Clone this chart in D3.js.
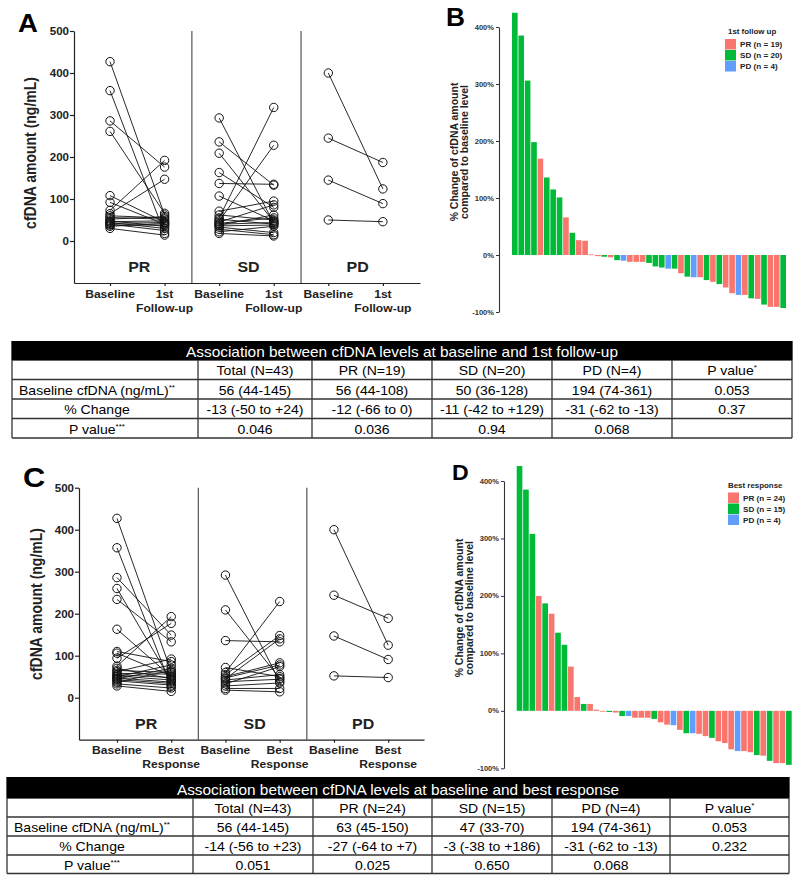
<!DOCTYPE html>
<html><head><meta charset="utf-8">
<script src="https://cdn.jsdelivr.net/npm/d3@7"></script>
<style>body{margin:0;background:#fff}svg{display:block}</style>
</head><body><svg id="c" width="800" height="882"></svg>
<script>
// ---------------- DATA ----------------
const groupNames = ["PR", "SD", "PD"];
const yTicksPaired = [0, 100, 200, 300, 400, 500];
const yTicksWaterfall = [-100, 0, 100, 200, 300, 400];

// Panel A: baseline vs 1st follow-up (ng/mL)
const A_PR_base = [427, 358, 286, 261, 108, 92, 73, 65, 60, 56, 52, 48, 46, 44, 42, 40, 38, 35, 30];
const A_PR_fu   = [62, 18, 176, 66, 45, 40, 192, 147, 55, 52, 58, 35, 48, 30, 44, 25, 38, 42, 14];
const A_SD_base = [293, 236, 209, 163, 137, 107, 71, 62, 55, 52, 48, 45, 42, 40, 38, 36, 33, 28, 22, 18];
const A_SD_fu   = [42, 133, 46, 80, 135, 48, 95, 50, 318, 40, 228, 86, 55, 44, 62, 38, 20, 15, 35, 12];
const A_PD_base = [400, 245, 145, 50];
const A_PD_fu   = [124, 187, 89, 46];
const A_tickLabels = [["Baseline"], ["1st", "Follow-up"]];

// Panel C: baseline vs best response (ng/mL)
const C_PR_base = [427, 357, 286, 260, 234, 163, 110, 106, 94, 75, 70, 65, 62, 58, 55, 52, 50, 47, 45, 43, 40, 37, 33, 28];
const C_PR_best = [62, 27, 149, 40, 133, 50, 86, 52, 177, 193, 45, 60, 92, 56, 48, 42, 78, 37, 70, 34, 30, 65, 23, 15];
const C_SD_base = [292, 209, 136, 72, 60, 55, 50, 47, 45, 42, 38, 33, 28, 22, 18];
const C_SD_best = [38, 46, 133, 50, 229, 148, 83, 78, 140, 55, 44, 74, 35, 22, 14];
const C_PD_base = [400, 244, 147, 52];
const C_PD_best = [125, 189, 91, 48];
const C_tickLabels = [["Baseline"], ["Best", "Response"]];

// Panel B: % change at 1st follow-up (waterfall)
const B_values = [425, 385, 306, 198, 169, 136, 115, 101, 66, 39, 26, 25, 1, -2, -3, -4, -9, -10, -12, -12, -12, -14, -20, -22, -24, -24, -32, -38, -39, -39, -44, -47, -51, -57, -67, -70, -70, -76, -77, -87, -91, -91, -93];
const B_groups = ["SD","SD","SD","SD","PR","SD","SD","SD","PR","SD","PR","PR","PR","PR","SD","PR","SD","PD","PR","PR","PR","SD","SD","SD","PD","SD","PR","SD","PD","PR","SD","PR","SD","PR","PR","PD","PR","SD","PR","SD","PR","PR","SD"];
const B_legendTitle = "1st follow up";
const B_legendLabels = ["PR (n = 19)", "SD (n = 20)", "PD (n = 4)"];

// Panel D: % change at best response (waterfall)
const D_values = [426, 385, 308, 200, 187, 169, 136, 115, 77, 24, 12, 12, 2, -1, -2, -3, -9, -9, -12, -12, -12, -14, -20, -24, -25, -33, -39, -39, -40, -44, -47, -53, -56, -67, -70, -70, -72, -77, -78, -87, -91, -91, -94];
const D_groups = ["SD","SD","SD","PR","SD","PR","SD","SD","PR","PR","SD","PR","PR","PR","SD","PR","SD","PD","PR","PR","PR","SD","PR","PR","PD","PR","SD","PD","PR","PR","SD","PR","PR","PR","PD","PR","PR","SD","PR","SD","PR","PR","SD"];
const D_legendTitle = "Best response";
const D_legendLabels = ["PR (n = 24)", "SD (n = 15)", "PD (n = 4)"];

const groupColors = {PR: "#F8766D", SD: "#00BA38", PD: "#619CFF"};

// Tables
const T1_title = "Association between cfDNA levels at baseline and 1st follow-up";
const T1_heads = ["Total (N=43)", "PR (N=19)", "SD (N=20)", "PD (N=4)", "P value"];
const T1_baseline = ["56 (44-145)", "56 (44-108)", "50 (36-128)", "194 (74-361)", "0.053"];
const T1_change = ["-13 (-50 to +24)", "-12 (-66 to 0)", "-11 (-42 to +129)", "-31 (-62 to -13)", "0.37"];
const T1_pvalue = ["0.046", "0.036", "0.94", "0.068", ""];

const T2_title = "Association between cfDNA levels at baseline and best response";
const T2_heads = ["Total (N=43)", "PR (N=24)", "SD (N=15)", "PD (N=4)", "P value"];
const T2_baseline = ["56 (44-145)", "63 (45-150)", "47 (33-70)", "194 (74-361)", "0.053"];
const T2_change = ["-14 (-56 to +23)", "-27 (-64 to +7)", "-3 (-38 to +186)", "-31 (-62 to -13)", "0.232"];
const T2_pvalue = ["0.051", "0.025", "0.650", "0.068", ""];

const rowLabels = ["Baseline cfDNA (ng/mL)", "% Change", "P value"];
const rowLabelSups = ["**", "", "***"];
const headSups = ["", "", "", "", "*"];

// ---------------- DRAWING ----------------
const FONT = "'Liberation Sans', Arial, Helvetica, sans-serif";
const svg = d3.select("#c");
svg.append("rect").attr("width", 800).attr("height", 882).attr("fill", "#fff");

function T(parent, x, y, str, opt = {}) {
  const {size = 12, weight = "normal", anchor = "middle", fill = "#000", sx = 1, rot = 0} = opt;
  let tr = `translate(${x},${y})`;
  if (sx !== 1) tr += ` scale(${sx},1)`;
  if (rot) tr += ` rotate(${rot})`;
  return parent.append("text").attr("transform", tr).attr("text-anchor", anchor)
    .attr("font-family", FONT).attr("font-size", size).attr("font-weight", weight)
    .attr("fill", fill).text(str);
}

function paired(o) {
  const g = svg.append("g");
  const y = d3.scaleLinear().domain([-100, 500]).range([o.bottom, o.top]);
  const x = d3.scaleLinear().domain(o.xDomain).range([o.left, o.right]);
  [1.5, 3.5].forEach(p => g.append("line").attr("x1", x(p)).attr("x2", x(p))
    .attr("y1", y(-100)).attr("y2", y(500)).attr("stroke", "#555").attr("stroke-width", 1.2));
  const ya = g.append("g").attr("transform", `translate(${o.left},0)`)
    .call(d3.axisLeft(y).tickValues(yTicksPaired).tickSize(4).tickSizeOuter(0).tickFormat(""));
  ya.select(".domain").attr("stroke", "#222").attr("stroke-width", 1.2);
  ya.selectAll(".tick line").attr("stroke", "#222").attr("stroke-width", 1.2);
  yTicksPaired.forEach(v => T(g, o.left - 5, y(v) + 4, String(v), {size: 10.5, weight: "bold", anchor: "end", sx: 1.1, fill: "#222"}));
  const xa = g.append("g").attr("transform", `translate(0,${y(-100)})`)
    .call(d3.axisBottom(x).tickValues(d3.range(6)).tickSize(3).tickSizeOuter(0).tickFormat(""));
  xa.select(".domain").attr("stroke", "#222").attr("stroke-width", 1.2);
  xa.selectAll(".tick line").attr("stroke", "#222").attr("stroke-width", 1.2);
  o.groups.forEach((grp, gi) => {
    const x0 = x(gi * 2), x1 = x(gi * 2 + 1);
    grp.base.forEach((b, i) => {
      g.append("line").attr("x1", x0).attr("y1", y(b)).attr("x2", x1).attr("y2", y(grp.after[i]))
        .attr("stroke", "#111").attr("stroke-width", 0.9);
    });
    grp.base.forEach(b => g.append("circle").attr("cx", x0).attr("cy", y(b)).attr("r", 4.2)
      .attr("fill", "none").attr("stroke", "#111").attr("stroke-width", 1));
    grp.after.forEach(a => g.append("circle").attr("cx", x1).attr("cy", y(a)).attr("r", 4.2)
      .attr("fill", "none").attr("stroke", "#111").attr("stroke-width", 1));
    T(g, (x0 + x1) / 2 + 2, o.groupLabelY, groupNames[gi], {size: 14.5, weight: "bold", sx: 1.1, fill: "#222"});
    [0, 1].forEach(k => {
      o.tickLabels[k].forEach((s, li) => {
        T(g, x(gi * 2 + k), o.tickLabelY + li * 13.5, s, {size: 11, weight: "bold", sx: 1.1, fill: "#222"});
      });
    });
  });
  T(g, o.yLabelX, o.yLabelY, "cfDNA amount (ng/mL)", {size: 14, weight: "bold", rot: -90, sx: 1.15, fill: "#222"});
  T(g, o.letterX, o.letterY, o.letter, {size: o.letterSize, weight: "bold", anchor: "start", sx: 1.1});
}

function waterfall(o) {
  const g = svg.append("g");
  const y = d3.scaleLinear().domain([-100, 400]).range([o.bottom, o.top]);
  const x = d3.scaleBand().domain(d3.range(o.values.length)).range([o.barL, o.barR]).paddingInner(0.12).paddingOuter(0);
  g.selectAll("rect.bar").data(o.values).enter().append("rect")
    .attr("x", (d, i) => x(i)).attr("width", x.bandwidth())
    .attr("y", d => Math.min(y(d), y(0))).attr("height", d => Math.max(0.8, Math.abs(y(d) - y(0))))
    .attr("fill", (d, i) => groupColors[o.groups[i]]);
  const ya = g.append("g").attr("transform", `translate(${o.axisX},0)`)
    .call(d3.axisLeft(y).tickValues(yTicksWaterfall).tickSize(3).tickSizeOuter(0).tickFormat(""));
  ya.select(".domain").attr("stroke", "#333").attr("stroke-width", 1.1);
  ya.selectAll(".tick line").attr("stroke", "#333");
  yTicksWaterfall.forEach(v => T(g, o.axisX - 5, y(v) + 2.5, v + "%", {size: 7, weight: "bold", anchor: "end", sx: 1.08, fill: "#333"}));
  T(g, o.yLabelX, o.yLabelY, "% Change of cfDNA amount", {size: 10.5, weight: "bold", rot: -90, fill: "#222", sx: 1.1});
  T(g, o.yLabelX + 10, o.yLabelY, "compared to baseline level", {size: 10.5, weight: "bold", rot: -90, fill: "#222", sx: 1.1});
  T(g, o.letterX, o.letterY, o.letter, {size: o.letterSize, weight: "bold", anchor: "start", sx: 1.05});
  T(g, o.legX + o.titleDx, o.legY, o.legendTitle, {size: 7.2, weight: "bold", anchor: "start", sx: 1.1, fill: "#222"});
  ["PR", "SD", "PD"].forEach((k, i) => {
    const yy = o.legY + 5 + i * 11;
    g.append("rect").attr("x", o.legX).attr("y", yy).attr("width", 11).attr("height", 10.5).attr("fill", groupColors[k]);
    T(g, o.legX + 15, yy + 8.3, o.legendLabels[i], {size: 7.4, weight: "bold", anchor: "start", sx: 1.1, fill: "#222"});
  });
}

function table(o) {
  const g = svg.append("g");
  const X = o.cols, Y = o.rows;
  for (let r = 1; r < Y.length; r++)
    g.append("line").attr("x1", X[0]).attr("x2", X[6]).attr("y1", Y[r]).attr("y2", Y[r]).attr("stroke", "#333").attr("stroke-width", 1.3);
  X.forEach(xx => g.append("line").attr("x1", xx).attr("x2", xx).attr("y1", Y[1]).attr("y2", Y[Y.length - 1]).attr("stroke", "#333").attr("stroke-width", 1.3));
  g.append("rect").attr("x", X[0] - 0.65).attr("y", Y[0]).attr("width", X[6] - X[0] + 1.3).attr("height", Y[1] - Y[0]).attr("fill", "#000");
  T(g, (X[0] + X[6]) / 2, Y[1] - 3.5, o.title, {size: 14, fill: "#fff", sx: 1.1});
  const cell = (c, r, str, sup) => {
    const cx = c === 0 ? (X[0] + X[1]) / 2 - 8 : (X[c] + X[c + 1]) / 2;
    const t = T(g, cx, Y[r] + 15, "", {size: 13, sx: 1.08});
    t.append("tspan").text(str);
    if (sup) t.append("tspan").attr("dy", -5).attr("font-size", 7.5).text(sup);
  };
  o.heads.forEach((h, i) => cell(i + 1, 1, h, headSups[i]));
  [o.baseline, o.change, o.pvalue].forEach((row, ri) => {
    cell(0, ri + 2, rowLabels[ri], rowLabelSups[ri]);
    row.forEach((v, i) => cell(i + 1, ri + 2, v, ""));
  });
}

paired({
  left: 74, right: 420, xDomain: [-0.66, 5.68], top: 31, bottom: 283,
  groups: [{base: A_PR_base, after: A_PR_fu}, {base: A_SD_base, after: A_SD_fu}, {base: A_PD_base, after: A_PD_fu}],
  tickLabels: A_tickLabels, tickLabelY: 298, groupLabelY: 272,
  yLabelX: 36, yLabelY: 153, letter: "A", letterX: 18, letterY: 32, letterSize: 25
});

paired({
  left: 79, right: 424, xDomain: [-0.70, 5.66], top: 487.7, bottom: 739.7,
  groups: [{base: C_PR_base, after: C_PR_best}, {base: C_SD_base, after: C_SD_best}, {base: C_PD_base, after: C_PD_best}],
  tickLabels: C_tickLabels, tickLabelY: 754, groupLabelY: 729,
  yLabelX: 42, yLabelY: 604, letter: "C", letterX: 23, letterY: 487, letterSize: 28
});

waterfall({
  values: B_values, groups: B_groups, axisX: 499, top: 27, bottom: 312, barL: 512, barR: 786,
  yLabelX: 458, yLabelY: 152, letter: "B", letterX: 446, letterY: 26, letterSize: 25,
  legX: 725, legY: 34, titleDx: 3, legendTitle: B_legendTitle, legendLabels: B_legendLabels
});

waterfall({
  values: D_values, groups: D_groups, axisX: 504, top: 481, bottom: 768.3, barL: 516.7, barR: 791.7,
  yLabelX: 463, yLabelY: 608, letter: "D", letterX: 452, letterY: 480, letterSize: 22,
  legX: 728, legY: 487.5, titleDx: 0, legendTitle: D_legendTitle, legendLabels: D_legendLabels
});

table({
  cols: [12, 198, 312, 432, 552, 672, 792], rows: [341, 360, 379.5, 399, 418.5, 438],
  title: T1_title, heads: T1_heads, baseline: T1_baseline, change: T1_change, pvalue: T1_pvalue
});

table({
  cols: [7, 193, 313, 432, 552, 670, 789], rows: [777, 798, 817, 836, 855, 873.5],
  title: T2_title, heads: T2_heads, baseline: T2_baseline, change: T2_change, pvalue: T2_pvalue
});
</script></body></html>
